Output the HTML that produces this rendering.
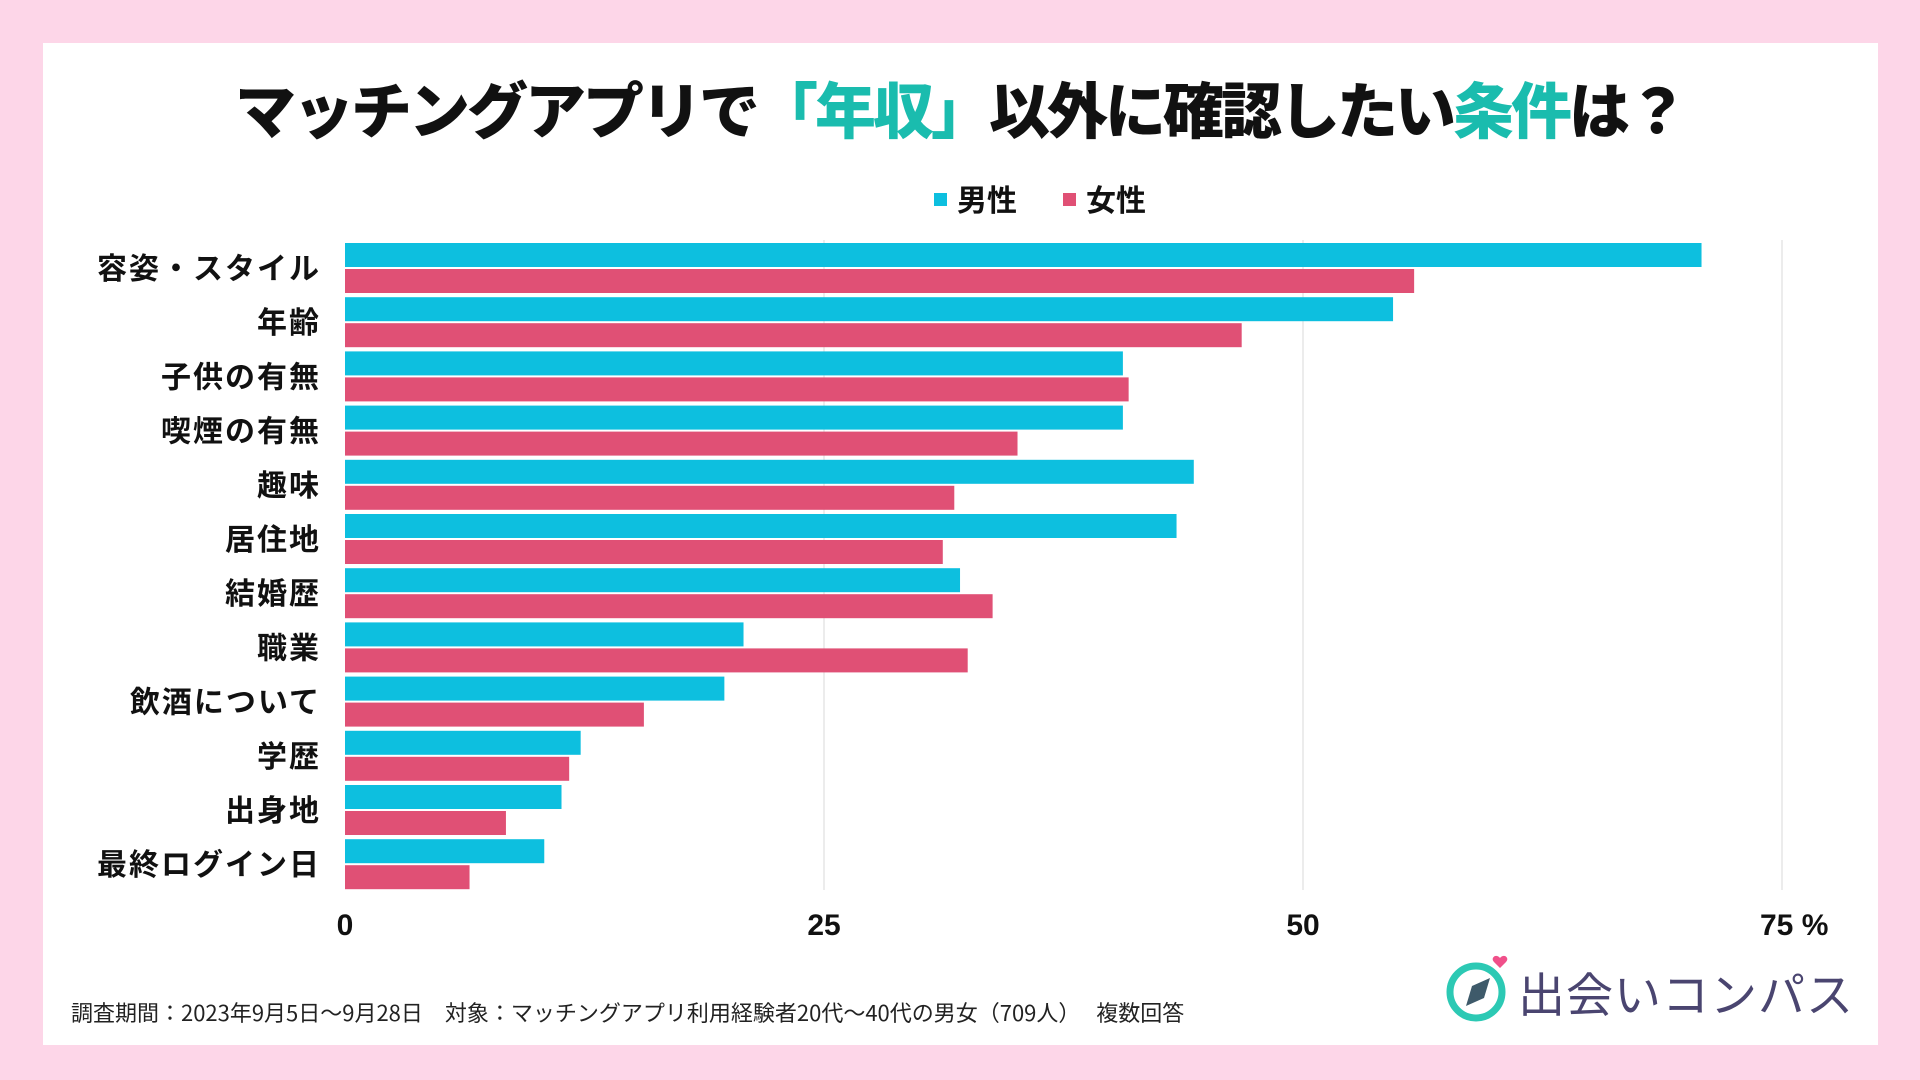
<!DOCTYPE html>
<html><head><meta charset="utf-8">
<style>
html,body{margin:0;padding:0;}
body{width:1920px;height:1080px;background:#fdd6e8;position:relative;overflow:hidden;font-family:"Liberation Sans","Noto Sans CJK JP",sans-serif;}
#card{position:absolute;left:43px;top:43px;width:1835px;height:1002px;background:#fff;}
#title{position:absolute;left:0;top:62px;width:1920px;text-align:center;font-size:61px;font-weight:900;letter-spacing:-3px;color:#111;font-family:"Noto Sans CJK JP",sans-serif;}
#title .hl{color:#1abcae;}
.legend{position:absolute;top:176px;font-size:30px;font-weight:700;font-family:"Noto Sans CJK JP",sans-serif;color:#111;}
.sw{display:inline-block;width:13px;height:13px;margin-right:10px;vertical-align:middle;position:relative;top:-3px;}
#foot{position:absolute;left:71px;top:996px;font-size:22px;color:#222;font-family:"Noto Sans CJK JP",sans-serif;}
#logo{position:absolute;left:1518px;top:957px;font-size:47px;color:#4a4570;font-family:"Noto Sans CJK JP",sans-serif;letter-spacing:1px;}
svg text{font-family:"Liberation Sans","Noto Sans CJK JP",sans-serif;}
</style></head>
<body>
<div id="card"></div>
<div id="title">マッチングアプリで<span class="hl">「年収」</span>以外に確認したい<span class="hl">条件</span>は？</div>
<div class="legend" style="left:934px"><span class="sw" style="background:#0dbfdf"></span>男性</div>
<div class="legend" style="left:1063px"><span class="sw" style="background:#e05075"></span>女性</div>
<svg id="chart" width="1920" height="1080" style="position:absolute;left:0;top:0"></svg>
<div id="foot">調査期間：2023年9月5日〜9月28日　対象：マッチングアプリ利用経験者20代〜40代の男女（709人）　 複数回答</div>
<svg width="80" height="80" style="position:absolute;left:1440px;top:950px">
<circle cx="36" cy="42" r="26" fill="none" stroke="#2cc9b4" stroke-width="7"/>
<polygon points="26,56 32,36 50,28 44,48" fill="#3e5a6a"/>
<path d="M60 8 c-4-5-10 0-6 4 l6 6 6-6 c4-4-2-9-6-4z" fill="#f0508a"/>
</svg>
<div id="logo">出会いコンパス</div>
<script>
const categories=["容姿・スタイル","年齢","子供の有無","喫煙の有無","趣味","居住地","結婚歴","職業","飲酒について","学歴","出身地","最終ログイン日"];
const maleValues=[70.8,54.7,40.6,40.6,44.3,43.4,32.1,20.8,19.8,12.3,11.3,10.4];
const femaleValues=[55.8,46.8,40.9,35.1,31.8,31.2,33.8,32.5,15.6,11.7,8.4,6.5];
const ticks=[0,25,50,75];
const tickLabels=["0","25","50","75 %"];
const svg=document.getElementById('chart');
const NS='http://www.w3.org/2000/svg';
const x0=345,pxPerUnit=(1782-345)/75,top0=243,pitch=54.2,barH=24;
function xs(v){return x0+v*pxPerUnit;}
function mk(tag,attrs){const e=document.createElementNS(NS,tag);for(const k in attrs)e.setAttribute(k,attrs[k]);svg.appendChild(e);return e;}
ticks.forEach((t,i)=>{
  if(t>0){const l=mk('line',{x1:xs(t),x2:xs(t),y1:240,y2:890,stroke:'#d9d9d9','stroke-width':1});
  
  }
  const tx=mk('text',{x:xs(t),y:935,'text-anchor':i===ticks.length-1?'start':'middle','font-size':30,'font-weight':700,fill:'#111'});
  if(i===ticks.length-1)tx.setAttribute('x',xs(t)-22);
  tx.textContent=tickLabels[i];
  
  
});
categories.forEach((c,i)=>{
  const y=top0+i*pitch;
  const m=mk('rect',{x:x0,y:y,width:xs(maleValues[i])-x0,height:barH,fill:'#0dbfdf'});
  
  
  const f=mk('rect',{x:x0,y:y+barH+2,width:xs(femaleValues[i])-x0,height:barH,fill:'#e05075'});
  
  
  const t=mk('text',{x:321,y:y+36,'text-anchor':'end','font-size':30,'font-weight':700,fill:'#111','letter-spacing':2});
  t.textContent=c;
  
  
});
</script>
</body></html>
